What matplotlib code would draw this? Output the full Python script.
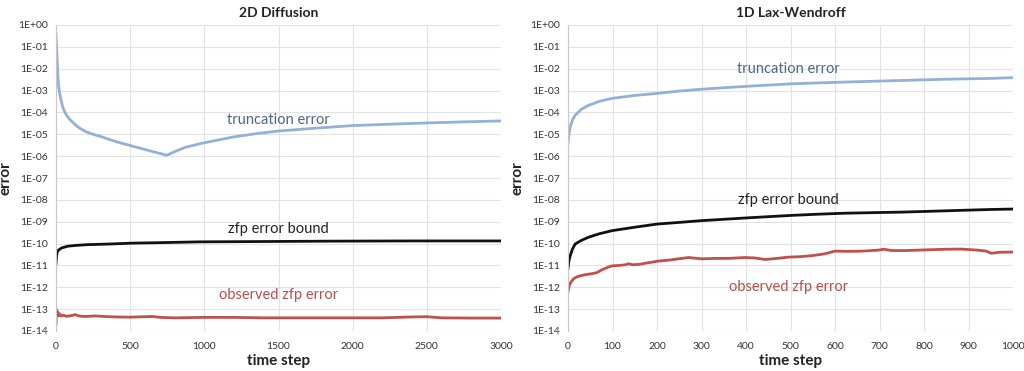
import matplotlib
matplotlib.use("Agg")
import matplotlib.pyplot as plt
from matplotlib.ticker import FixedLocator, FuncFormatter
import math

plt.rcParams['font.family'] = ['Lato', 'DejaVu Sans']

# ---------------- data ----------------
titles = ["2D Diffusion", "1D Lax-Wendroff"]
series_names = ["truncation error", "zfp error bound", "observed zfp error"]

# 2D Diffusion
diff_trunc_t = [0, 2, 4, 6, 9, 12, 16, 21, 27, 35, 49, 60, 72, 90, 117, 140, 160, 190,
                220, 260, 297, 400, 521, 640, 746, 800, 870, 970, 1100, 1200, 1350, 1500,
                1750, 2000, 2250, 2500, 2750, 3000]
diff_trunc_v = [3.9e-1, 2.0e-1, 1.0e-1, 4.5e-2, 1.7e-2, 5.6e-3, 2.1e-3, 1.07e-3, 6.3e-4,
                3.3e-4, 1.5e-4, 1.02e-4, 7.4e-5, 5.0e-5, 3.3e-5, 2.4e-5, 1.9e-5, 1.45e-5,
                1.17e-5, 9.5e-6, 8.1e-6, 4.7e-6, 2.8e-6, 1.7e-6, 1.1e-6, 1.6e-6, 2.5e-6,
                3.7e-6, 5.6e-6, 7.6e-6, 1.07e-5, 1.41e-5, 1.9e-5, 2.5e-5, 2.9e-5, 3.3e-5,
                3.7e-5, 4.1e-5]

diff_bound_t = [0, 3, 8, 16, 38, 80, 140, 207, 350, 520, 700, 970, 1300, 1850, 2400, 3000]
diff_bound_v = [1.2e-11, 2.5e-11, 4.0e-11, 5.0e-11, 6.3e-11, 7.6e-11, 8.3e-11, 8.9e-11,
                9.5e-11, 1.05e-10, 1.1e-10, 1.2e-10, 1.23e-10, 1.29e-10, 1.32e-10, 1.32e-10]

diff_obs_t = [0, 3, 8, 12, 18, 25, 35, 50, 70, 100, 130, 160, 200, 260, 330, 400, 500,
              600, 650, 700, 800, 900, 1000, 1200, 1400, 1600, 1800, 2000, 2200, 2400,
              2500, 2600, 2800, 3000]
diff_obs_v = [2.0e-14, 9.5e-14, 6.0e-14, 7.5e-14, 5.0e-14, 6.0e-14, 4.8e-14, 5.3e-14,
              4.7e-14, 5.0e-14, 5.6e-14, 4.8e-14, 4.6e-14, 4.9e-14, 4.6e-14, 4.4e-14,
              4.3e-14, 4.5e-14, 4.6e-14, 4.2e-14, 4.0e-14, 4.1e-14, 4.2e-14, 4.2e-14,
              4.0e-14, 4.0e-14, 4.0e-14, 4.0e-14, 4.0e-14, 4.4e-14, 4.5e-14, 4.0e-14,
              3.9e-14, 3.9e-14]

# 1D Lax-Wendroff
lw_t = [0, 2, 5, 10, 16, 30, 46, 70, 99, 150, 200, 250, 300, 350, 398, 450, 503,
        560, 622, 697, 750, 802, 850, 899, 950, 1000]
lw_trunc_v = [3.7e-6, 1.0e-5, 2.2e-5, 4.5e-5, 7.4e-5, 1.4e-4, 2.1e-4, 3.2e-4, 4.4e-4,
              6.0e-4, 7.4e-4, 9.5e-4, 1.15e-3, 1.35e-3, 1.55e-3, 1.78e-3, 2.04e-3,
              2.24e-3, 2.45e-3, 2.7e-3, 2.9e-3, 3.1e-3, 3.3e-3, 3.45e-3, 3.6e-3, 3.9e-3]
lw_bound_v = [7.1e-12, 1.6e-11, 2.8e-11, 5.6e-11, 9.5e-11, 1.4e-10, 1.95e-10, 2.8e-10,
              3.9e-10, 5.6e-10, 7.8e-10, 9.3e-10, 1.12e-9, 1.29e-9, 1.48e-9, 1.7e-9,
              1.95e-9, 2.2e-9, 2.45e-9, 2.63e-9, 2.75e-9, 2.95e-9, 3.16e-9, 3.39e-9,
              3.63e-9, 3.8e-9]

lw_obs_t = [0, 3, 8, 13, 20, 31, 40, 54, 65, 76, 90, 99, 115, 129, 136, 145, 160, 174,
            203, 230, 248, 271, 290, 300, 330, 360, 398, 420, 443, 470, 495, 520, 548,
            577, 600, 630, 660, 697, 710, 727, 760, 809, 850, 884, 921, 940, 951, 970, 1000]
lw_obs_v = [6.2e-13, 1.26e-12, 1.9e-12, 2.5e-12, 3.0e-12, 3.5e-12, 3.8e-12, 4.2e-12,
            4.7e-12, 6.3e-12, 8.3e-12, 9.5e-12, 1.0e-11, 1.07e-11, 1.2e-11, 1.07e-11,
            1.12e-11, 1.26e-11, 1.58e-11, 1.78e-11, 2.0e-11, 2.3e-11, 2.1e-11, 2.0e-11,
            2.1e-11, 2.1e-11, 2.3e-11, 2.2e-11, 1.86e-11, 2.1e-11, 2.4e-11, 2.5e-11,
            2.8e-11, 3.4e-11, 4.5e-11, 4.4e-11, 4.5e-11, 5.0e-11, 5.5e-11, 4.8e-11,
            4.8e-11, 5.2e-11, 5.5e-11, 5.6e-11, 5.0e-11, 4.5e-11, 3.6e-11, 4.0e-11, 4.1e-11]

y_exponents = list(range(0, -15, -1))
diff_xticks = [0, 500, 1000, 1500, 2000, 2500, 3000]
lw_xticks = [0, 100, 200, 300, 400, 500, 600, 700, 800, 900, 1000]

# ---------------- style ----------------
c_trunc = "#93b1d6"
c_bound = "#111111"
c_obs = "#c0504d"
c_trunc_txt = "#4f6587"
c_bound_txt = "#222222"
c_obs_txt = "#b5504c"
grid_c = "#e3e3e3"

fig = plt.figure(figsize=(10.24, 3.71), dpi=100)
ax1 = fig.add_axes([56/1024, 1-331/371, 445/1024, 306/371])
ax2 = fig.add_axes([568/1024, 1-331/371, 445/1024, 306/371])

def fmt(v, pos):
    e = int(round(math.log10(v)))
    return "1E%s%02d" % ("+" if e >= 0 else "-", abs(e))

def style(ax, xticks, title):
    ax.set_yscale('log')
    ax.set_ylim(1e-14, 1e0)
    ax.set_xlim(xticks[0], xticks[-1])
    ax.yaxis.set_major_locator(FixedLocator([10.0**e for e in y_exponents]))
    ax.yaxis.set_minor_locator(FixedLocator([]))
    ax.yaxis.set_major_formatter(FuncFormatter(fmt))
    ax.set_xticks(xticks)
    ax.grid(True, which='major', color=grid_c, linewidth=0.8)
    for s in ['top', 'right', 'bottom']:
        ax.spines[s].set_visible(False)
    ax.spines['left'].set_color('#c8c8c8')
    ax.tick_params(length=0, labelsize=7.5, colors='#333333', pad=6)
    ax.tick_params(axis='x', pad=8)
    ax.set_axisbelow(True)
    ax.set_title(title, fontsize=10, fontweight='bold', color='#222222', pad=6)
    ax.set_xlabel("time step", fontsize=11, fontweight='bold', color='#222222', labelpad=2)
    ax.set_ylabel("error", fontsize=11, fontweight='bold', color='#222222', labelpad=4)

style(ax1, diff_xticks, titles[0])
style(ax2, lw_xticks, titles[1])

ax1.plot(diff_trunc_t, diff_trunc_v, color=c_trunc, lw=2)
ax1.plot(diff_bound_t, diff_bound_v, color=c_bound, lw=2)
ax1.plot(diff_obs_t, diff_obs_v, color=c_obs, lw=2)

ax2.plot(lw_t, lw_trunc_v, color=c_trunc, lw=2)
ax2.plot(lw_t, lw_bound_v, color=c_bound, lw=2)
ax2.plot(lw_obs_t, lw_obs_v, color=c_obs, lw=2)

lab = dict(fontsize=10.5, ha='center', va='center')
ax1.text(1500, 4.5e-5, series_names[0], color=c_trunc_txt, **lab)
ax1.text(1500, 4.5e-10, series_names[1], color=c_bound_txt, **lab)
ax1.text(1500, 4.5e-13, series_names[2], color=c_obs_txt, **lab)

ax2.text(495, 1.0e-2, series_names[0], color=c_trunc_txt, **lab)
ax2.text(495, 1.0e-8, series_names[1], color=c_bound_txt, **lab)
ax2.text(495, 1.0e-12, series_names[2], color=c_obs_txt, **lab)

fig.savefig("out.png", dpi=100)
